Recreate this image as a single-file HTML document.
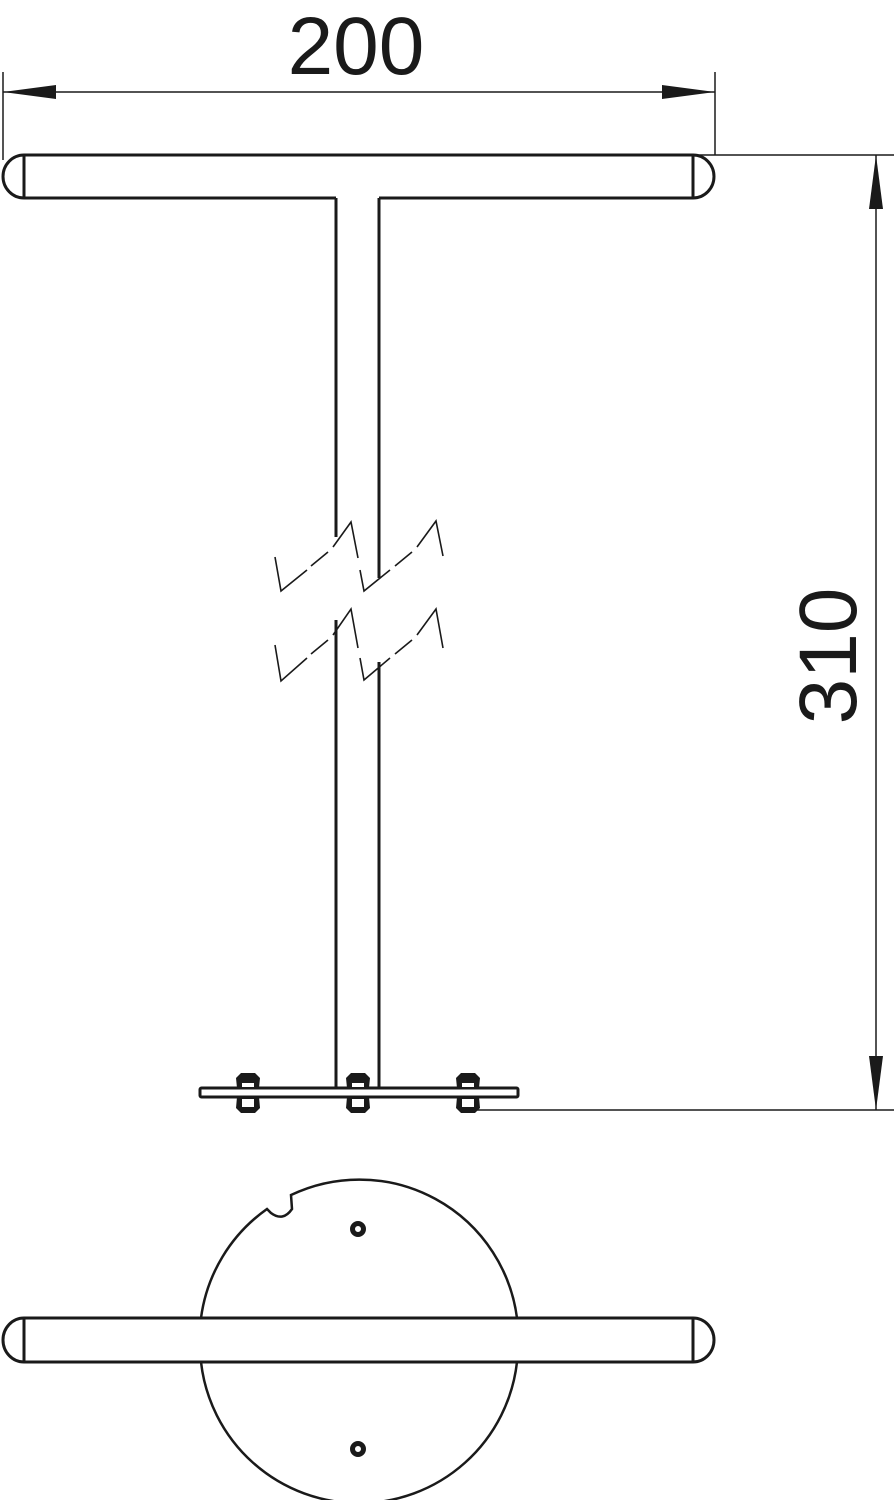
<!DOCTYPE html>
<html><head><style>body{margin:0;background:#fff}svg{display:block}</style></head><body>
<svg width="894" height="1500" viewBox="0 0 894 1500" xmlns="http://www.w3.org/2000/svg" fill="none" stroke="#1a1a1a">
<!-- dimension 200 -->
<line x1="3" y1="72" x2="3" y2="160" stroke-width="1.5"/>
<line x1="715" y1="72" x2="715" y2="155" stroke-width="1.5"/>
<line x1="3" y1="92" x2="715" y2="92" stroke-width="1.5"/>
<polygon points="3,92 56,85 56,99" fill="#1a1a1a" stroke="none"/>
<polygon points="715,92 662,85 662,99" fill="#1a1a1a" stroke="none"/>
<text x="356" y="74" font-family="Liberation Sans, sans-serif" font-size="82" fill="#1a1a1a" stroke="none" text-anchor="middle">200</text>
<!-- dimension 310 -->
<line x1="695" y1="155" x2="894" y2="155" stroke-width="1.5"/>
<line x1="475" y1="1110" x2="894" y2="1110" stroke-width="1.5"/>
<line x1="876" y1="155" x2="876" y2="1110" stroke-width="1.5"/>
<polygon points="876,155 869,209 883,209" fill="#1a1a1a" stroke="none"/>
<polygon points="876,1110 869,1056 883,1056" fill="#1a1a1a" stroke="none"/>
<text transform="translate(856,656) rotate(-90)" font-family="Liberation Sans, sans-serif" font-size="82" fill="#1a1a1a" stroke="none" text-anchor="middle">310</text>
<!-- top bar -->
<g stroke-width="3">
<path d="M24,155 L693,155 A21,21.5 0 0 1 693,198 L379,198"/>
<path d="M336,198 L24,198 A21,21.5 0 0 1 24,155"/>
<line x1="24" y1="155" x2="24" y2="198"/>
<line x1="693" y1="155" x2="693" y2="198"/>
<line x1="336" y1="198" x2="336" y2="537"/>
<line x1="379" y1="198" x2="379" y2="578"/>
<line x1="336" y1="620" x2="336" y2="1088"/>
<line x1="379" y1="662" x2="379" y2="1088"/>
<rect x="200" y="1088" width="318" height="9" rx="1.5"/>
</g>
<!-- break lines -->
<g stroke-width="1.6">
<polyline points="275,557 281,591 307,570"/><line x1="311" y1="566" x2="328" y2="552"/><polyline points="333,547 351,522 358,558"/>
<polyline points="360,570 364,591 390,570"/><line x1="395" y1="566" x2="412" y2="552"/><polyline points="417,547 436,521 443,556"/>
<polyline points="275,645 281,681 307,658"/><line x1="311" y1="654" x2="328" y2="640"/><polyline points="333,635 351,609 358,648"/>
<polyline points="360,658 364,680 390,658"/><line x1="395" y1="654" x2="412" y2="640"/><polyline points="417,635 436,609 443,648"/>
</g>
<!-- bolts -->
<g fill="#1a1a1a" stroke="none">
<path d="M237,1088 L236,1078 L241,1073 L255,1073 L260,1078 L259,1088 Z"/>
<path d="M237,1097 L236,1108 L241,1113 L255,1113 L260,1108 L259,1097 Z"/>
<path d="M347,1088 L346,1078 L351,1073 L365,1073 L370,1078 L369,1088 Z"/>
<path d="M347,1097 L346,1108 L351,1113 L365,1113 L370,1108 L369,1097 Z"/>
<path d="M457,1088 L456,1078 L461,1073 L475,1073 L480,1078 L479,1088 Z"/>
<path d="M457,1097 L456,1108 L461,1113 L475,1113 L480,1108 L479,1097 Z"/>
</g>
<g fill="#fff" stroke="none">
<rect x="242" y="1083" width="12" height="4"/><rect x="242" y="1099" width="12" height="8"/>
<rect x="352" y="1083" width="12" height="4"/><rect x="352" y="1099" width="12" height="8"/>
<rect x="462" y="1083" width="12" height="4"/><rect x="462" y="1099" width="12" height="8"/>
</g>
<!-- bottom view -->
<path d="M201,1318 A159,159 0 0 1 267,1209 L271,1213 Q283,1222 292,1209 L291,1195 A159,159 0 0 1 517,1318" stroke-width="2.5"/>
<path d="M201,1362 A159,159 0 0 0 517,1362" stroke-width="2.5"/>
<circle cx="358" cy="1229" r="5.5" stroke-width="5"/>
<circle cx="358" cy="1449" r="5.5" stroke-width="5"/>
<g stroke-width="3">
<path d="M24,1318 L693,1318 A21,22 0 0 1 693,1362 L24,1362 A21,22 0 0 1 24,1318"/>
<line x1="24" y1="1318" x2="24" y2="1362"/>
<line x1="693" y1="1318" x2="693" y2="1362"/>
</g>
</svg>
</body></html>
